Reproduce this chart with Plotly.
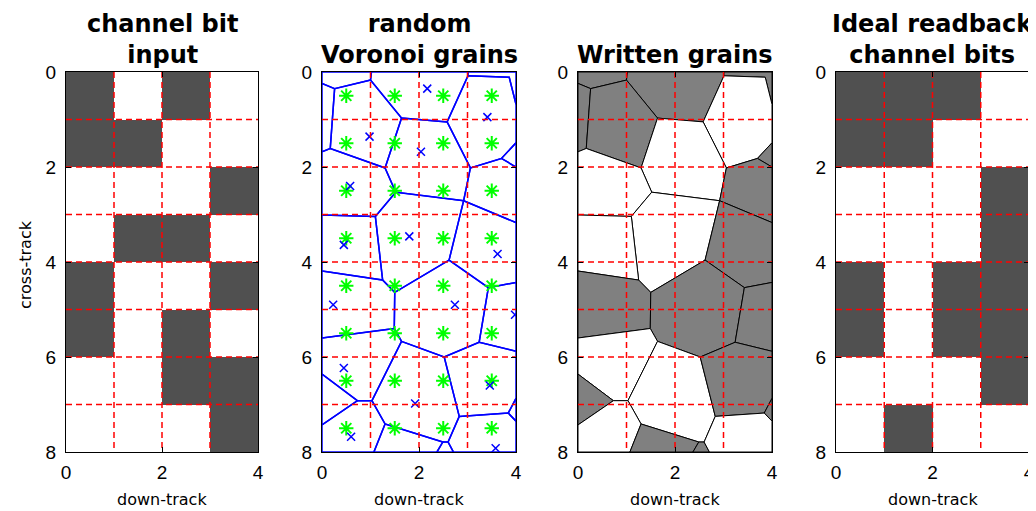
import plotly.graph_objects as go
import numpy as np

# ---------------- data ----------------
cell_x = [0.5, 1.5, 2.5, 3.5]                      # down-track cell centres
cell_y = [0.5, 1.5, 2.5, 3.5, 4.5, 5.5, 6.5, 7.5]  # cross-track cell centres

channel_bits_input = [
    [1, 0, 1, 0],
    [1, 1, 0, 0],
    [0, 0, 0, 1],
    [0, 1, 1, 0],
    [1, 0, 0, 1],
    [1, 0, 1, 0],
    [0, 0, 1, 1],
    [0, 0, 0, 1],
]
readback_bits = [
    [1, 1, 1, 0],
    [1, 1, 0, 0],
    [0, 0, 0, 1],
    [0, 0, 0, 1],
    [1, 0, 1, 1],
    [1, 0, 1, 1],
    [0, 0, 0, 1],
    [0, 1, 0, 0],
]

# random seed marks (blue x)
seed_x = [2.17, 3.41, 0.98, 2.04, 0.58, 1.80, 0.45, 3.62, 0.23, 2.74, 3.98, 0.45, 3.46, 1.92, 0.60, 3.58]
seed_y = [0.35, 0.95, 1.36, 1.68, 2.40, 3.46, 3.64, 3.83, 4.90, 4.90, 5.11, 6.23, 6.60, 6.98, 7.68, 7.92]

# Voronoi grain vertices
vert_x = [0, 4, 4, 0, 0, 0.26, 1.0, 1.02, 1.64, 2.58, 3.01, 3.01, 3.86, 4, 4, 3.70, 4, 3.06,
          0.17, 0, 1.30, 1.52, 2.92, 1.10, 0, 4, 1.25, 0, 1.50, 2.62, 3.43, 4, 1.49, 0,
          1.64, 2.52, 3.24, 4, 1.03, 0.73, 0, 0, 1.30, 1.07, 2.49, 2.37, 2.60, 2.71, 2.83,
          3.84, 4, 4]
vert_y = [0, 0, 8, 8, 0.24, 0.35, 0.17, 0, 0.97, 1.05, 0.08, 0, 0.11, 0.68, 1.49, 1.82, 2.0, 2.02,
          1.61, 1.68, 2.02, 2.53, 2.71, 3.04, 3.01, 3.17, 4.38, 4.19, 4.64, 3.96, 4.54, 4.43, 5.40, 5.60,
          5.67, 6.0, 5.69, 5.88, 6.92, 6.92, 6.36, 7.43, 7.41, 8, 7.79, 8, 7.79, 8, 7.25,
          7.18, 6.87, 7.35]

grain_vertices = [
    [0, 7, 6, 5, 4],
    [7, 11, 10, 9, 8, 6],
    [11, 1, 13, 12, 10],
    [10, 12, 13, 14, 15, 17, 9],
    [4, 5, 18, 19],
    [5, 6, 8, 20, 18],
    [8, 9, 17, 22, 21, 20],
    [15, 14, 16],
    [17, 15, 16, 25, 22],
    [19, 18, 20, 21, 23, 24],
    [21, 22, 29, 28, 26, 23],
    [24, 23, 26, 27],
    [22, 25, 31, 30, 29],
    [27, 26, 28, 32, 33],
    [29, 30, 36, 35, 34, 32, 28],
    [30, 31, 37, 36],
    [33, 32, 34, 38, 39, 40],
    [34, 35, 48, 46, 44, 42, 38],
    [35, 36, 37, 50, 49, 48],
    [49, 50, 51],
    [40, 39, 41],
    [41, 39, 38, 42, 43, 3],
    [42, 44, 45, 43],
    [44, 46, 47, 45],
    [48, 49, 51, 2, 47, 46],
]
grain_written = [1, 1, 1, 0, 1, 1, 0, 1, 1, 0, 0, 0, 1, 1, 1, 1, 0, 0, 1, 1, 1, 0, 1, 1, 0]

titles = ["channel bit<br>input", "random<br>Voronoi grains", "Written grains", "Ideal readback<br>channel bits"]
x_ticks = [0, 2, 4]
y_ticks = [0, 2, 4, 6, 8]
grid_x = [1, 2, 3]
grid_y = [1, 2, 3, 4, 5, 6, 7]

# ---------------- figure ----------------
OFF = 8                      # page body margin of the html page
W, H = 1036 - OFF, 511 - OFF
# layout positions in screen pixels
dom_x = [(66, 258), (322, 516), (578, 772), (836, 1029)]
dom_y = (72, 452)

def fx(px):
    return (px - OFF) / W

def fy(py):
    return 1 - (py - OFF) / H

DARK = "#505050"
GRAIN_GRAY = "#808080"

fig = go.Figure()

def ax(i):
    return ("x" if i == 0 else f"x{i+1}", "y" if i == 0 else f"y{i+1}")

# bit maps
for i, bits in [(0, channel_bits_input), (3, readback_bits)]:
    xa, ya = ax(i)
    fig.add_trace(go.Heatmap(z=bits, x=cell_x, y=cell_y, zmin=0, zmax=1,
                             colorscale=[[0, "white"], [1, DARK]], showscale=False,
                             hoverinfo="skip", xaxis=xa, yaxis=ya))

# Voronoi grains (panel 2 outlines, panel 3 filled)
for verts, w in zip(grain_vertices, grain_written):
    px = [vert_x[k] for k in verts] + [vert_x[verts[0]]]
    py = [vert_y[k] for k in verts] + [vert_y[verts[0]]]
    fig.add_trace(go.Scatter(x=px, y=py, mode="lines", line=dict(color="#0000ff", width=1.5),
                             hoverinfo="skip", xaxis="x2", yaxis="y2"))
    fig.add_trace(go.Scatter(x=px, y=py, mode="lines", fill="toself",
                             fillcolor=GRAIN_GRAY if w else "white",
                             line=dict(color="black", width=1),
                             hoverinfo="skip", xaxis="x3", yaxis="y3"))

# cell centres (green asterisks) and seeds (blue x)
cx, cy = np.meshgrid(cell_x, cell_y)
fig.add_trace(go.Scatter(x=cx.ravel(), y=cy.ravel(), mode="markers",
                         marker=dict(symbol="asterisk-open", size=12, color="#00ff00",
                                     line=dict(color="#00ff00", width=2)),
                         hoverinfo="skip", xaxis="x2", yaxis="y2"))
fig.add_trace(go.Scatter(x=seed_x, y=seed_y, mode="markers",
                         marker=dict(symbol="x-thin-open", size=8, color="#0000ff",
                                     line=dict(color="#0000ff", width=1.5)),
                         hoverinfo="skip", xaxis="x2", yaxis="y2"))

# red dashed grid on top
gx, gy = [], []
for g in grid_x:
    gx += [g, g, None]
    gy += [0, 8, None]
for g in grid_y:
    gx += [0, 4, None]
    gy += [g, g, None]
for i in range(4):
    xa, ya = ax(i)
    fig.add_trace(go.Scatter(x=gx, y=gy, mode="lines",
                             line=dict(color="#ff0000", width=1.5, dash="6px,4px"),
                             hoverinfo="skip", xaxis=xa, yaxis=ya))

layout = dict(width=W, height=H, margin=dict(l=0, r=0, t=0, b=0, autoexpand=False),
              paper_bgcolor="white", plot_bgcolor="white", showlegend=False)
tick_font = dict(family="Liberation Sans, Arial, sans-serif", size=19, color="black")
for i in range(4):
    xk = "xaxis" if i == 0 else f"xaxis{i+1}"
    yk = "yaxis" if i == 0 else f"yaxis{i+1}"
    xa, ya = ax(i)
    layout[xk] = dict(domain=[fx(dom_x[i][0]), fx(dom_x[i][1])], range=[0, 4],
                      tickvals=x_ticks, ticks="inside", ticklen=5, tickcolor="black",
                      showgrid=False, zeroline=False, showline=True, linecolor="black",
                      linewidth=1, mirror="ticks", tickfont=tick_font, anchor=ya,
                      ticklabelstandoff=3, fixedrange=True, automargin=False)
    layout[yk] = dict(domain=[fy(dom_y[1]), fy(dom_y[0])], range=[8, 0],
                      tickvals=y_ticks, ticks="inside", ticklen=5, tickcolor="black",
                      showgrid=False, zeroline=False, showline=True, linecolor="black",
                      linewidth=1, mirror="ticks", tickfont=tick_font, anchor=xa,
                      ticklabelstandoff=5, fixedrange=True, automargin=False)
fig.update_layout(**layout)

annotations = []
title_font = dict(family="DejaVu Sans", size=24, color="black")
label_font = dict(family="DejaVu Sans", size=16, color="black")
for i, t in enumerate(titles):
    cxp = fx((dom_x[i][0] + dom_x[i][1]) / 2)
    n_lines = t.count("<br>") + 1
    top_screen = 8.5 if n_lines == 2 else 39
    annotations.append(dict(text=f"<b>{t}</b>", x=cxp, y=fy(top_screen), xref="paper", yref="paper",
                            xanchor="center", yanchor="top", showarrow=False, font=title_font))
    annotations.append(dict(text="down-track", x=cxp, y=fy(499), xref="paper", yref="paper",
                            xanchor="center", yanchor="middle", showarrow=False, font=label_font))
annotations.append(dict(text="cross-track", x=fx(25), y=fy(265), xref="paper", yref="paper",
                        xanchor="center", yanchor="middle", textangle=-90, showarrow=False,
                        font=label_font))
fig.update_layout(annotations=annotations)

fig.write_html("out.html")
